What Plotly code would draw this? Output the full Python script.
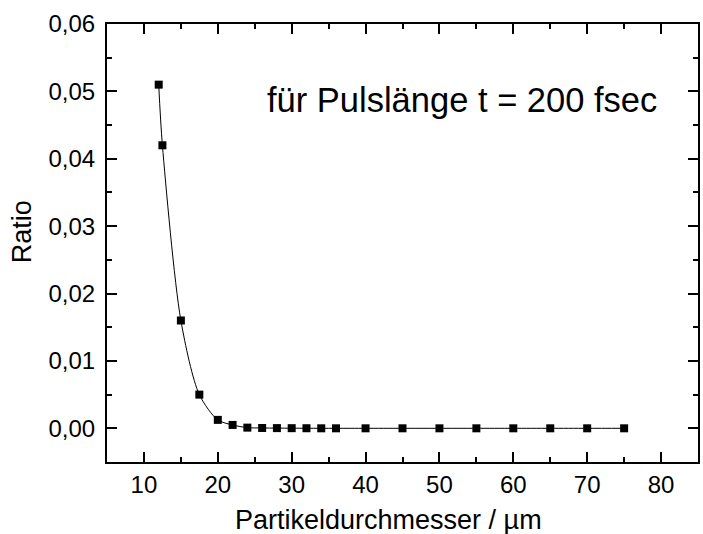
import plotly.graph_objects as go

# Particle diameter (µm) and ratio values
diameter = [12, 12.5, 15, 17.5, 20, 22, 24, 26, 28, 30, 32, 34, 36,
            40, 45, 50, 55, 60, 65, 70, 75]
ratio = [0.051, 0.042, 0.016, 0.005, 0.00125, 0.0005, 0.0001, 0.00005,
         0.00003, 0.00002, 0.00001, 0.0, 0.0, 0.0, 0.0, 0.0, 0.0, 0.0,
         0.0, 0.0, 0.0]

x_ticks = [10, 20, 30, 40, 50, 60, 70, 80]
y_ticks = [0.00, 0.01, 0.02, 0.03, 0.04, 0.05, 0.06]

font_family = "Liberation Sans, Arial, sans-serif"

fig = go.Figure()
fig.add_trace(go.Scatter(
    x=diameter, y=ratio,
    mode="lines+markers",
    line=dict(color="black", width=1, shape="spline", smoothing=0.8),
    marker=dict(symbol="square", size=8, color="black"),
    showlegend=False,
))

axis_common = dict(
    showline=True, linecolor="black", linewidth=2,
    mirror="allticks", ticks="inside", ticklen=10, tickwidth=2,
    tickcolor="black", showgrid=False, zeroline=False,
    tickfont=dict(size=24, color="black", family=font_family),
)

fig.update_xaxes(
    range=[5, 85], tickvals=x_ticks,
    minor=dict(ticks="inside", ticklen=5, tickwidth=2, dtick=5,
               tick0=5, tickcolor="black", showgrid=False),
    **axis_common,
)
fig.update_yaxes(
    range=[-0.005, 0.06], tickvals=y_ticks, tickformat=".2f",
    ticklabelstandoff=5,
    minor=dict(ticks="inside", ticklen=5, tickwidth=2, dtick=0.005,
               tick0=0.005, tickcolor="black", showgrid=False),
    **axis_common,
)

# Axis titles
fig.add_annotation(
    x=389, y=520, xref="paper", yref="paper",
    text="Partikeldurchmesser / µm", showarrow=False,
    font=dict(size=27, color="black", family=font_family),
    xanchor="center", yanchor="middle",
)
fig.add_annotation(
    x=22, y=232, xref="paper", yref="paper",
    text="Ratio", showarrow=False, textangle=-90,
    font=dict(size=27, color="black", family=font_family),
    xanchor="center", yanchor="middle",
)

# Pulse-length label inside the plot
fig.add_annotation(
    x=463, y=100, xref="paper", yref="paper",
    text="für Pulslänge t = 200 fsec", showarrow=False,
    font=dict(size=34.5, color="black", family=font_family),
    xanchor="center", yanchor="middle",
)

# Convert pixel positions of annotations to paper coordinates
L, R, T, B, W, H = 107, 3, 24, 72, 703, 534
pw, ph = W - L - R, H - T - B
for ann in fig.layout.annotations:
    ann.x = (ann.x - L) / pw
    ann.y = (H - B - ann.y) / ph

fig.update_layout(
    width=W, height=H,
    margin=dict(l=L, r=R, t=T, b=B),
    paper_bgcolor="white", plot_bgcolor="white",
    separators=",.",
)

fig.write_html("out.html")
